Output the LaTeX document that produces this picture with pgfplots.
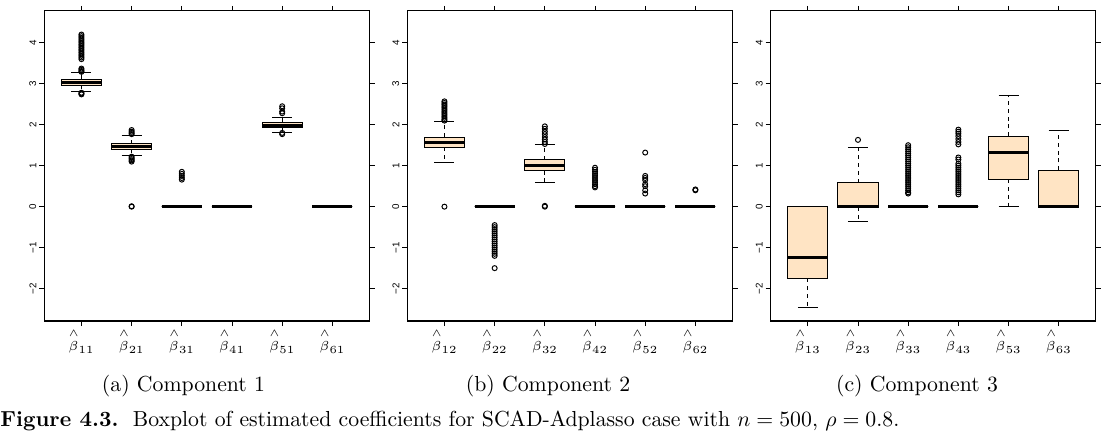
\documentclass[border=0pt]{standalone}
\usepackage{fontspec}
\usepackage{pgfplots}
\pgfplotsset{compat=1.18}
\usepgfplotslibrary{statistics}
\newfontfamily\rfont{Liberation Sans}
\definecolor{bisq}{RGB}{255,228,196}
\newcommand{\hb}[1]{$\stackrel{\wedge}{\beta}_{#1}$}
\pgfplotsset{
 rpanel/.style={
  scale only axis, width=149.6pt, height=142.7pt,
  anchor=south west,
  xmin=0.26, xmax=6.74, ymin=-2.79, ymax=4.78,
  xtick={1,2,3,4,5,6}, ytick={-2,-1,0,1,2,3,4},
  yticklabels={−2,−1,0,1,2,3,4},
  tick align=outside, major tick length=2.3pt,
  axis line style={line width=0.5pt},
  every tick/.append style={black, line width=0.45pt},
  yticklabel style={font=\rfont\fontsize{4.5}{5}\selectfont, rotate=90, anchor=south, inner sep=1.2pt},
  xticklabel style={font=\fontsize{6}{7}\selectfont, anchor=north, inner sep=1pt},
 },
 rbp/.style={draw=black, line width=0.45pt, solid,
  mark=o, mark size=1.15pt, mark options={fill=none, draw=black, line width=0.45pt, solid},
  boxplot/draw direction=y,
  boxplot/box extend=0.8,
  boxplot/every box/.style={draw=black, fill=bisq, line width=0.45pt},
  boxplot/every median/.style={draw=black, line width=1.35pt},
  boxplot/draw/lower whisker/.code={%
    \draw[black, line width=0.45pt, dash pattern=on 1.8pt off 1.8pt]
      (boxplot box cs:\pgfplotsboxplotvalue{lower quartile},0.5) --
      (boxplot box cs:\pgfplotsboxplotvalue{lower whisker},0.5);
    \draw[black, line width=0.45pt]
      (boxplot box cs:\pgfplotsboxplotvalue{lower whisker},0.25) --
      (boxplot box cs:\pgfplotsboxplotvalue{lower whisker},0.75);
  },
  boxplot/draw/upper whisker/.code={%
    \draw[black, line width=0.45pt, dash pattern=on 1.8pt off 1.8pt]
      (boxplot box cs:\pgfplotsboxplotvalue{upper quartile},0.5) --
      (boxplot box cs:\pgfplotsboxplotvalue{upper whisker},0.5);
    \draw[black, line width=0.45pt]
      (boxplot box cs:\pgfplotsboxplotvalue{upper whisker},0.25) --
      (boxplot box cs:\pgfplotsboxplotvalue{upper whisker},0.75);
  },
 }
}
% draw position, lower whisker, lower quartile, median, upper quartile, upper whisker, outliers
\newcommand{\bx}[7]{\addplot[rbp, boxplot prepared={draw position=#1, lower whisker=#2, lower quartile=#3, median=#4, upper quartile=#5, upper whisker=#6}] coordinates {#7};}
\begin{document}
\begin{tikzpicture}
\useasboundingbox (0,0) rectangle (512.9pt,201.02pt);
% Panel 1
\begin{axis}[rpanel, at={(20.38pt,53.36pt)},
  xticklabels={\hb{11},\hb{21},\hb{31},\hb{41},\hb{51},\hb{61}}]
\bx{1}{2.80}{2.96}{3.03}{3.11}{3.27}{(0,4.20)(0,4.16)(0,4.12)(0,4.08)(0,4.04)(0,4.00)(0,3.96)(0,3.92)(0,3.88)(0,3.84)(0,3.80)(0,3.76)(0,3.72)(0,3.68)(0,3.64)(0,3.60)(0,3.37)(0,3.34)(0,3.31)(0,3.29)(0,2.78)(0,2.76)(0,2.74)}
\bx{2}{1.25}{1.40}{1.46}{1.54}{1.74}{(0,1.87)(0,1.83)(0,1.80)(0,1.77)(0,1.22)(0,1.19)(0,1.16)(0,1.13)(0,1.10)(0,0.01)(0,0)}
\bx{3}{0}{0}{0}{0}{0}{(0,0.85)(0,0.80)(0,0.75)(0,0.70)(0,0.66)}
\bx{4}{0}{0}{0}{0}{0}{}
\bx{5}{1.82}{1.94}{1.99}{2.06}{2.18}{(0,2.45)(0,2.40)(0,2.32)(0,2.28)(0,1.80)(0,1.77)}
\bx{6}{0}{0}{0}{0}{0}{}
\end{axis}
% Panel 2
\begin{axis}[rpanel, at={(187.36pt,53.36pt)},
  xticklabels={\hb{12},\hb{22},\hb{32},\hb{42},\hb{52},\hb{62}}]
\bx{1}{1.08}{1.45}{1.57}{1.70}{2.07}{(0,2.57)(0,2.53)(0,2.49)(0,2.45)(0,2.41)(0,2.37)(0,2.33)(0,2.29)(0,2.25)(0,2.21)(0,2.17)(0,2.13)(0,2.10)(0,0)}
\bx{2}{0}{0}{0}{0}{0}{(0,-0.45)(0,-0.50)(0,-0.55)(0,-0.60)(0,-0.65)(0,-0.70)(0,-0.75)(0,-0.80)(0,-0.85)(0,-0.90)(0,-0.95)(0,-1.00)(0,-1.05)(0,-1.10)(0,-1.15)(0,-1.20)(0,-1.50)}
\bx{3}{0.58}{0.88}{1.00}{1.14}{1.51}{(0,1.96)(0,1.90)(0,1.83)(0,1.77)(0,1.70)(0,1.64)(0,1.58)(0,1.53)(0,0.02)(0,0)}
\bx{4}{0}{0}{0}{0}{0}{(0,0.95)(0,0.90)(0,0.85)(0,0.80)(0,0.75)(0,0.70)(0,0.65)(0,0.60)(0,0.55)(0,0.50)(0,0.47)}
\bx{5}{0}{0}{0}{0}{0}{(0,1.32)(0,0.75)(0,0.70)(0,0.65)(0,0.55)(0,0.50)(0,0.40)(0,0.32)}
\bx{6}{0}{0}{0}{0}{0}{(0,0.42)(0,0.40)}
\end{axis}
% Panel 3
\begin{axis}[rpanel, at={(354.5pt,53.36pt)},
  xticklabels={\hb{13},\hb{23},\hb{33},\hb{43},\hb{53},\hb{63}}]
\bx{1}{-2.46}{-1.75}{-1.24}{0}{0}{}
\bx{2}{-0.35}{-0.01}{0}{0.59}{1.45}{(0,1.63)}
\bx{3}{0}{0}{0}{0}{0}{(0,1.50)(0,1.45)(0,1.40)(0,1.35)(0,1.30)(0,1.25)(0,1.20)(0,1.15)(0,1.10)(0,1.05)(0,1.00)(0,0.95)(0,0.90)(0,0.85)(0,0.80)(0,0.75)(0,0.70)(0,0.65)(0,0.60)(0,0.55)(0,0.50)(0,0.45)(0,0.40)(0,0.35)(0,0.32)}
\bx{4}{0}{0}{0}{0}{0}{(0,1.88)(0,1.83)(0,1.78)(0,1.72)(0,1.65)(0,1.58)(0,1.52)(0,1.20)(0,1.15)(0,1.05)(0,1.00)(0,0.95)(0,0.90)(0,0.85)(0,0.80)(0,0.75)(0,0.70)(0,0.65)(0,0.60)(0,0.55)(0,0.50)(0,0.45)(0,0.40)(0,0.35)(0,0.30)}
\bx{5}{0}{0.67}{1.33}{1.72}{2.71}{}
\bx{6}{0}{-0.01}{0}{0.89}{1.86}{}
\end{axis}
\node at (84.4pt,23.4pt) {(a) Component 1};
\node at (252.1pt,23.4pt) {(b) Component 2};
\node at (421.8pt,23.4pt) {(c) Component 3};
\node[anchor=west, inner sep=0pt] at (0pt,7.4pt) {\textbf{Figure 4.3.}\ \ Boxplot of estimated coefficients for SCAD-Adplasso case with $n=500$, $\rho=0.8$.};
\end{tikzpicture}
\end{document}
